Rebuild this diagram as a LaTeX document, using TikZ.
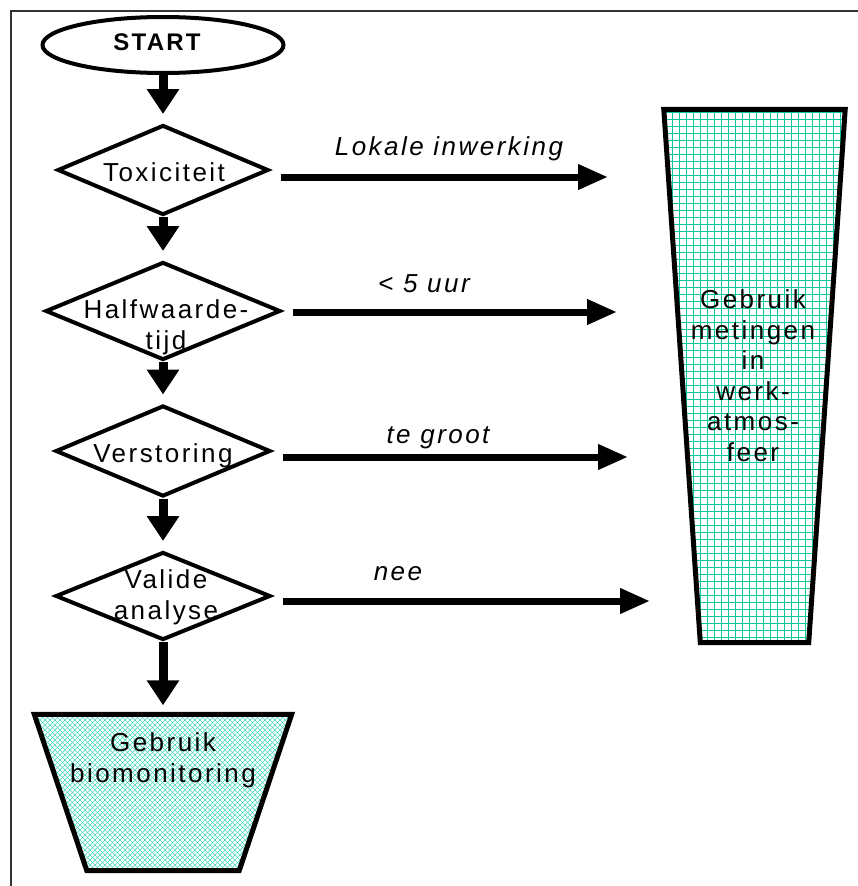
\documentclass[tikz,border=0pt]{standalone}
\usepackage{fontspec}
\setmainfont{Liberation Sans}[LetterSpace=9.5]
\usetikzlibrary{shapes.geometric,arrows.meta,calc}
\definecolor{gridteal}{RGB}{10,200,155}
\definecolor{hatchteal}{RGB}{70,216,188}
\begin{document}
\begin{tikzpicture}[x=1pt,y=-1pt,
  txt/.style={font=\fontsize{26}{30.5}\selectfont, inner sep=0pt, align=center},
  lab/.style={font=\fontsize{26}{30}\selectfont\itshape, inner sep=0pt},
  dia/.style={diamond, draw, line width=4pt, inner sep=0pt},
  varrow/.style={line width=9pt, -{Triangle[length=25pt,width=31pt]}, shorten >=9pt},
  harrow/.style={line width=7pt, -{Triangle[length=30pt,width=24pt]}, shorten <=10pt},
  shp/.style={line width=5pt, line join=miter},
  frame/.style={line width=2pt, draw=black!80}]
\useasboundingbox (0,0) rectangle (858,886);
\draw[frame] (11,900) -- (11,11) -- (870,11);

% shapes
\node[draw, ellipse, line width=4pt, minimum width=241pt, minimum height=56pt, inner sep=0pt] (start) at (163,45) {};
\node[dia, minimum width=211pt, minimum height=90pt] (tox) at (163,170) {};
\node[dia, minimum width=235pt, minimum height=98pt] (half) at (163,311) {};
\node[dia, minimum width=215pt, minimum height=91pt] (vers) at (163,451) {};
\node[dia, minimum width=215pt, minimum height=88pt] (val) at (163,596) {};

\node[inner sep=0pt, minimum width=257pt, minimum height=156pt] (bio) at (163,792.5) {};
\node[inner sep=0pt, minimum width=181pt, minimum height=533pt] (meas) at (754.5,376) {};

% pattern fills
\begin{scope}
  \clip (bio.north west) -- (bio.north east) -- ($(bio.south east)+(-52.5,0)$) -- ($(bio.south west)+(52.5,0)$) -- cycle;
  \foreach \i in {-220,-215,...,330} {
    \draw[hatchteal, line width=0.6pt] (\i,700) -- (\i+200,900);
    \draw[hatchteal, line width=0.6pt] (\i+200,700) -- (\i,900);
  }
\end{scope}
\begin{scope}
  \clip (meas.north west) -- (meas.north east) -- ($(meas.south east)+(-36.5,0)$) -- ($(meas.south west)+(36.5,0)$) -- cycle;
  \draw[gridteal, line width=1pt, step=7pt] (650,100) grid (860,660);
\end{scope}
\draw[shp] (bio.north west) -- (bio.north east) -- ($(bio.south east)+(-52.5,0)$) -- ($(bio.south west)+(52.5,0)$) -- cycle;
\draw[shp] (meas.north west) -- (meas.north east) -- ($(meas.south east)+(-36.5,0)$) -- ($(meas.south west)+(36.5,0)$) -- cycle;

% texts
\node[font=\fontsize{24}{28}\selectfont\bfseries, inner sep=0pt, anchor=base] (startt) at (157,50) {START};
\node[txt, anchor=base] (toxt) at (164,181) {Toxiciteit};
\node[txt, anchor=base] (halft) at (166,349) {Halfwaarde-\\tijd};
\node[txt, anchor=base] (verst) at (163,462) {Verstoring};
\node[txt, anchor=base] (valt) at (166,619) {Valide\\analyse};
\node[txt, anchor=base] (biot) at (163,782) {Gebruik\\biomonitoring};
\node[txt, anchor=base] (meast) at (753,461) {Gebruik\\metingen\\in\\werk-\\atmos-\\feer};

% edge labels
\node[lab, anchor=base] (l1) at (449,155) {Lokale inwerking};
\node[lab, anchor=base] (l2) at (424,292) {< 5 uur};
\node[lab, anchor=base] (l3) at (438,443) {te groot};
\node[lab, anchor=base] (l4) at (398,580) {nee};

% vertical connectors
\draw[varrow] (start.south) -- (tox.north);
\draw[varrow] (tox.south) -- (half.north);
\draw[varrow] (half.south) -- (vers.north);
\draw[varrow] (vers.south) -- (val.north);
\draw[varrow] (val.south) -- (val.south |- bio.north);

% horizontal connectors
\coordinate (e1) at (608,177);
\coordinate (e2) at (617,312);
\coordinate (e3) at (628,457);
\coordinate (e4) at (650,601);
\draw[harrow] (tox.east |- e1) -- (e1);
\draw[harrow] (half.east |- e2) -- (e2);
\draw[harrow] (vers.east |- e3) -- (e3);
\draw[harrow] (val.east |- e4) -- (e4);
\end{tikzpicture}
\end{document}
